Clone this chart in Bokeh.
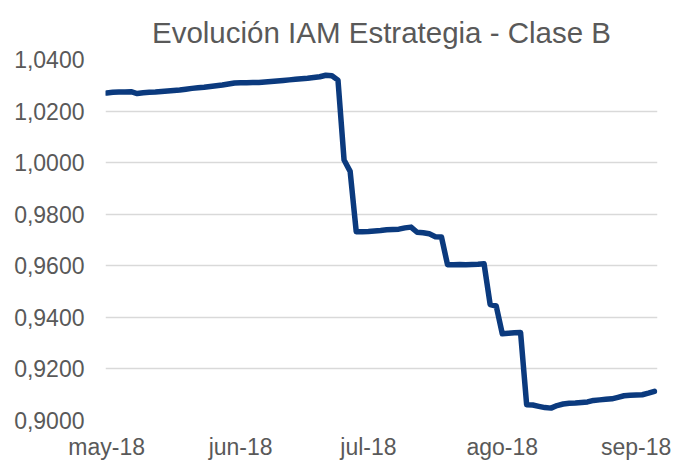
import pandas as pd
from bokeh.plotting import figure
from bokeh.models import FixedTicker, CustomJSTickFormatter, Range1d
from bokeh.embed import file_html
from bokeh.resources import INLINE

# Trading days (Spanish fund NAV, 15-Aug holiday excluded)
dates = [d for d in pd.bdate_range("2018-05-02", "2018-09-06") if d.strftime("%m-%d") != "08-15"]

nav = [
    1.0270, 1.0273, 1.0274, 1.0274, 1.0275, 1.0268, 1.0271, 1.0273, 1.0274, 1.0276,
    1.0278, 1.0280, 1.0282, 1.0285, 1.0288, 1.0290, 1.0292, 1.0295, 1.0298, 1.0301,
    1.0305, 1.0309, 1.0310, 1.0310, 1.0311, 1.0311, 1.0313, 1.0315, 1.0317, 1.0319,
    1.0321, 1.0323, 1.0325, 1.0327, 1.0330, 1.0333, 1.0339, 1.0337, 1.0320, 1.0010,
    0.9966, 0.9732, 0.9732, 0.9733, 0.9735, 0.9737, 0.9740, 0.9741, 0.9742, 0.9747,
    0.9750, 0.9730, 0.9728, 0.9724, 0.9713, 0.9712, 0.9604, 0.9604, 0.9605, 0.9604,
    0.9605, 0.9606, 0.9608, 0.9450, 0.9444, 0.9336, 0.9338, 0.9340, 0.9341, 0.9061,
    0.9060, 0.9055, 0.9050, 0.9048, 0.9058, 0.9064, 0.9067, 0.9068, 0.9070, 0.9072,
    0.9078, 0.9080, 0.9082, 0.9084, 0.9090, 0.9096, 0.9098, 0.9099, 0.9100, 0.9106,
    0.9113,
]

month_labels = ["may-18", "jun-18", "jul-18", "ago-18", "sep-18"]
y_ticks = [0.90, 0.92, 0.94, 0.96, 0.98, 1.00, 1.02, 1.04]

x_idx = list(range(len(nav)))
month_pos = []
prev = None
for i, d in enumerate(dates):
    if d.month != prev:
        month_pos.append(i)
        prev = d.month

FONT = "Liberation Sans"
GREY = "#595959"

p = figure(width=676, height=462, output_backend="svg", toolbar_location=None,
           x_range=Range1d(-0.2, 90.5), y_range=Range1d(0.90, 1.04),
           min_border_left=105, min_border_right=19, min_border_top=59, min_border_bottom=40,
           title="Evolución IAM Estrategia - Clase B")

p.title.align = "center"
p.title.text_font = FONT
p.title.text_font_size = "29.5px"
p.title.text_font_style = "normal"
p.title.text_color = GREY
p.title.standoff = 22

p.line(x_idx, nav, line_color="#0B3A7E", line_width=5.5, line_join="round", line_cap="round")

p.outline_line_color = None
p.xgrid.grid_line_color = None
p.ygrid.grid_line_color = "#D9D9D9"
p.ygrid.grid_line_width = 1.3

p.yaxis.ticker = FixedTicker(ticks=y_ticks)
p.yaxis.formatter = CustomJSTickFormatter(code="return tick.toFixed(4).replace('.', ',');")
p.xaxis.ticker = FixedTicker(ticks=month_pos)
p.xaxis.major_label_overrides = {pos: lab for pos, lab in zip(month_pos, month_labels)}

for ax in (p.xaxis, p.yaxis):
    ax.axis_line_color = None
    ax.major_tick_line_color = None
    ax.minor_tick_line_color = None
    ax.major_tick_out = 0
    ax.major_tick_in = 0
    ax.major_label_text_font = FONT
    ax.major_label_text_font_size = "23px"
    ax.major_label_text_color = GREY

p.yaxis.major_label_standoff = 21
p.xaxis.major_label_standoff = 13

open("out.html", "w").write(file_html(p, INLINE))
